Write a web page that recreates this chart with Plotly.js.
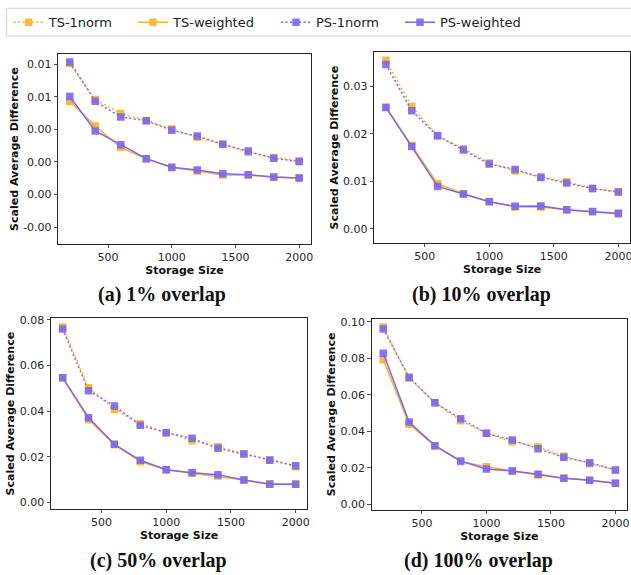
<!DOCTYPE html>
<html>
<head>
<meta charset="utf-8">
<script src="https://cdn.plot.ly/plotly-3.0.1.min.js"></script>
<style>html,body{margin:0;padding:0;background:#fff;}#chart{width:631px;height:575px;}</style>
</head>
<body>
<div id="chart"></div>
<script>
// ---- data ----
const storageSizes = [200, 400, 600, 800, 1000, 1200, 1400, 1600, 1800, 2000];
const seriesNames = ["TS-1norm", "TS-weighted", "PS-1norm", "PS-weighted"];
const captions = ["(a) 1% overlap", "(b) 10% overlap", "(c) 50% overlap", "(d) 100% overlap"];

// (a) 1% overlap
const a_ts1norm = [0.00804, 0.00584, 0.00498, 0.00455, 0.00402, 0.00351, 0.00308, 0.00259, 0.00227, 0.00206];
const a_tsweighted = [0.00573, 0.00420, 0.00288, 0.00220, 0.00165, 0.00145, 0.00120, 0.00120, 0.00106, 0.00102];
const a_ps1norm = [0.00814, 0.00573, 0.00476, 0.00453, 0.00394, 0.00359, 0.00308, 0.00267, 0.00222, 0.00202];
const a_psweighted = [0.00602, 0.00390, 0.00306, 0.00220, 0.00167, 0.00151, 0.00127, 0.00122, 0.00108, 0.00102];
// (b) 10% overlap
const b_ts1norm = [0.03556, 0.02579, 0.01960, 0.01687, 0.01384, 0.01216, 0.01096, 0.00991, 0.00850, 0.00780];
const b_tsweighted = [0.02565, 0.01757, 0.00949, 0.00738, 0.00576, 0.00457, 0.00457, 0.00400, 0.00358, 0.00337];
const b_ps1norm = [0.03465, 0.02488, 0.01960, 0.01658, 0.01363, 0.01251, 0.01082, 0.00963, 0.00850, 0.00773];
const b_psweighted = [0.02558, 0.01736, 0.00892, 0.00731, 0.00569, 0.00471, 0.00478, 0.00400, 0.00365, 0.00316];
// (c) 50% overlap
const c_ts1norm = [0.07693, 0.05031, 0.04080, 0.03452, 0.03057, 0.02706, 0.02442, 0.02135, 0.01872, 0.01565];
const c_tsweighted = [0.05470, 0.03627, 0.02530, 0.01784, 0.01433, 0.01287, 0.01155, 0.00980, 0.00819, 0.00804];
const c_ps1norm = [0.07605, 0.04899, 0.04227, 0.03378, 0.03057, 0.02808, 0.02369, 0.02121, 0.01843, 0.01609];
const c_psweighted = [0.05470, 0.03715, 0.02545, 0.01843, 0.01433, 0.01302, 0.01214, 0.00980, 0.00790, 0.00790];
// (d) 100% overlap
const d_ts1norm = [0.09708, 0.06898, 0.05566, 0.04580, 0.03887, 0.03431, 0.03139, 0.02628, 0.02226, 0.01880];
const d_tsweighted = [0.07920, 0.04380, 0.03212, 0.02336, 0.02062, 0.01825, 0.01606, 0.01423, 0.01314, 0.01150];
const d_ps1norm = [0.09599, 0.06953, 0.05566, 0.04690, 0.03887, 0.03522, 0.03047, 0.02573, 0.02281, 0.01880];
const d_psweighted = [0.08266, 0.04507, 0.03212, 0.02372, 0.01934, 0.01825, 0.01642, 0.01423, 0.01314, 0.01150];

// tick labels
const xTickVals = [500, 1000, 1500, 2000];
const xTickText = ["500", "1000", "1500", "2000"];
const aTickVals = [-0.002, 0, 0.002, 0.004, 0.006, 0.008];
const aTickText = ["-0.00", "0.00", "0.00", "0.00", "0.01", "0.01"];
const bTickVals = [0, 0.01, 0.02, 0.03];
const bTickText = ["0.00", "0.01", "0.02", "0.03"];
const cTickVals = [0, 0.02, 0.04, 0.06, 0.08];
const cTickText = ["0.00", "0.02", "0.04", "0.06", "0.08"];
const dTickVals = [0, 0.02, 0.04, 0.06, 0.08, 0.10];
const dTickText = ["0.00", "0.02", "0.04", "0.06", "0.08", "0.10"];

// ---- styling ----
const W = 631, H = 575;
const ORANGE = "#FDB02E", PURPLE = "#7B68EE";
const styles = [
  {color: ORANGE, dash: "2px,2.5px"},
  {color: ORANGE, dash: "solid"},
  {color: PURPLE, dash: "2px,2.5px"},
  {color: PURPLE, dash: "solid"}
];

const panels = [
  {series: [a_ts1norm, a_tsweighted, a_ps1norm, a_psweighted], tv: aTickVals, tt: aTickText,
   box: [58.3, 310.7, 54.3, 244], yr: [-0.00304, 0.00861]},
  {series: [b_ts1norm, b_tsweighted, b_ps1norm, b_psweighted], tv: bTickVals, tt: bTickText,
   box: [374.3, 630, 52.3, 243], yr: [-0.00302, 0.03722]},
  {series: [c_ts1norm, c_tsweighted, c_ps1norm, c_psweighted], tv: cTickVals, tt: cTickText,
   box: [51, 307.3, 318.3, 509], yr: [-0.00294, 0.08074]},
  {series: [d_ts1norm, d_tsweighted, d_ps1norm, d_psweighted], tv: dTickVals, tt: dTickText,
   box: [371.7, 627, 319, 509.7], yr: [-0.00296, 0.10145]}
];
const captionPos = [[161.5, 294], [481, 294], [158, 560], [478.5, 560]];

const traces = [];
const layout = {
  width: W, height: H,
  margin: {l: 0, r: 0, t: 0, b: 0},
  paper_bgcolor: "#fff", plot_bgcolor: "#fff",
  font: {family: "DejaVu Sans", color: "#262626"},
  showlegend: true,
  annotations: [],
  shapes: [{type: "rect", xref: "paper", yref: "paper",
            x0: 6.7 / W, x1: 1.02, y0: 1 - 36 / H, y1: 1 - 8.3 / H,
            line: {color: "#d4d4d4", width: 1}, fillcolor: "rgba(0,0,0,0)"}]
};

const legendTextX = [53.7, 178, 321, 445];

panels.forEach((p, i) => {
  const n = i + 1;
  const xa = "x" + (n === 1 ? "" : n), ya = "y" + (n === 1 ? "" : n);
  p.series.forEach((vals, k) => {
    const tr = {
      type: "scatter", mode: "lines+markers",
      x: storageSizes, y: vals, xaxis: xa, yaxis: ya,
      name: seriesNames[k],
      line: {color: styles[k].color, width: 1.5, dash: styles[k].dash},
      marker: {symbol: "square", size: 7.5, color: styles[k].color, opacity: 0.9},
      showlegend: i === 0,
      hoverinfo: "skip"
    };
    if (i === 0) tr.legend = k === 0 ? "legend" : "legend" + (k + 1);
    traces.push(tr);
  });
  const [l, r, t, b] = p.box;
  const axX = "xaxis" + (n === 1 ? "" : n), axY = "yaxis" + (n === 1 ? "" : n);
  layout[axX] = {
    domain: [l / W, r / W], anchor: ya, range: [110, 2090],
    tickvals: xTickVals, ticktext: xTickText,
    ticks: "outside", ticklen: 3, tickwidth: 0.8, tickcolor: "#262626",
    ticklabeloverflow: "allow",
    showline: true, mirror: true, linecolor: "#262626", linewidth: 1,
    showgrid: false, zeroline: false,
    tickfont: {size: 11, family: "DejaVu Sans", color: "#262626"},
    title: {text: "<b>Storage Size</b>", font: {size: 11, family: "DejaVu Sans", color: "#111"}, standoff: 0},
    automargin: false
  };
  layout[axY] = {
    domain: [1 - b / H, 1 - t / H], anchor: xa, range: p.yr,
    tickvals: p.tv, ticktext: p.tt,
    ticks: "outside", ticklen: 3.5, tickwidth: 0.8, tickcolor: "#262626",
    showline: true, mirror: true, linecolor: "#262626", linewidth: 1,
    showgrid: false, zeroline: false,
    tickfont: {size: 11, family: "DejaVu Sans", color: "#262626"},
    title: {text: "<b>Scaled Average Difference</b>", font: {size: 11, family: "DejaVu Sans", color: "#111"}, standoff: 2},
    automargin: false
  };
  layout.annotations.push({
    xref: "paper", yref: "paper", x: captionPos[i][0] / W, y: 1 - captionPos[i][1] / H,
    xanchor: "center", yanchor: "middle", showarrow: false,
    text: "<b>" + captions[i] + "</b>",
    font: {family: "Liberation Serif", size: 20, color: "#111"}
  });
});

// four single-entry legends laid out in one row
["legend", "legend2", "legend3", "legend4"].forEach((key, k) => {
  layout[key] = {
    x: (legendTextX[k] - 45) / W, y: 1 - 22.3 / H, xanchor: "left", yanchor: "middle",
    orientation: "h", bgcolor: "rgba(0,0,0,0)", borderwidth: 0,
    font: {family: "DejaVu Sans", size: 13, color: "#222"}
  };
});

Plotly.newPlot("chart", traces, layout, {staticPlot: true, displayModeBar: false});
</script>
</body>
</html>
